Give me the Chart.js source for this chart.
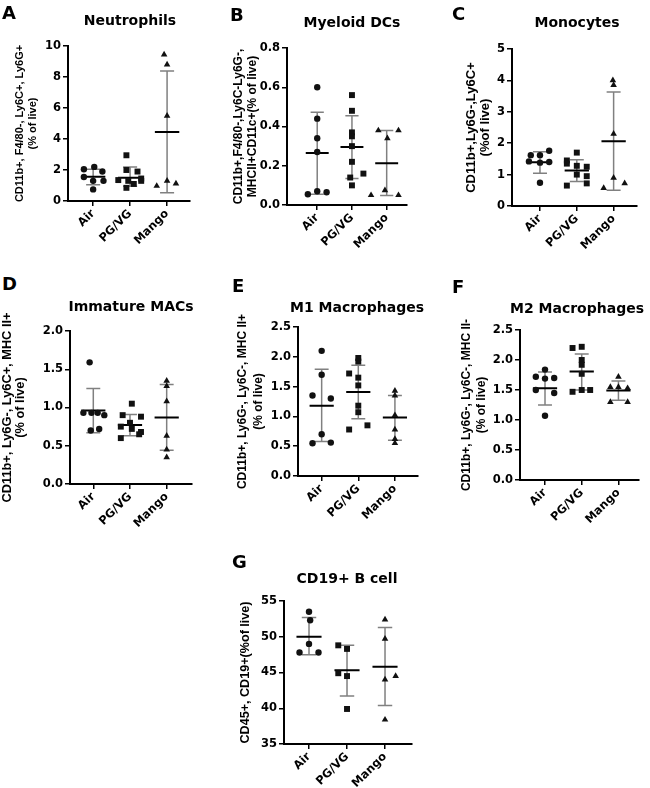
<!DOCTYPE html>
<html>
<head>
<meta charset="utf-8">
<script src="https://cdn.jsdelivr.net/npm/chart.js@4.4.1/dist/chart.umd.min.js"></script>
<style>
    body { margin: 0; background: #fff; width: 650px; height: 788px; position: relative; overflow: hidden; }
    .panel { position: absolute; }
    .letter { position: absolute; font: bold 18px "DejaVu Sans", sans-serif; color: #000; line-height: 1; }
    .ptitle { position: absolute; font: bold 14px "DejaVu Sans", sans-serif; color: #000; transform: translate(-50%, -50%); white-space: nowrap; }
</style>
</head>
<body>
<script>
// Grupos comunes a todos los paneles
const groups = ['Air', 'PG/VG', 'Mango'];

// A - Neutrophils
const neutrophilsValues = [
    [2.2, 2.05, 1.9, 1.55, 1.3, 1.3, 0.75],
    [2.95, 2.0, 1.9, 1.45, 1.35, 1.3, 1.3, 1.1, 0.85],
    [9.45, 8.8, 5.5, 1.3, 1.12, 0.97]
];
const neutrophilsJitter = [
    [0.03, -0.25, 0.25, -0.25, 0, 0.28, 0],
    [-0.1, -0.1, 0.2, 0.3, -0.32, -0.05, 0.3, 0.1, -0.1],
    [-0.08, 0, 0, 0, 0.24, -0.28]
];
const neutrophilsMean = [1.57, 1.5, 4.45];
const neutrophilsLow = [1.05, 0.95, 0.54];
const neutrophilsHigh = [2.05, 2.2, 8.39];
const neutrophilsTicks = [0, 2, 4, 6, 8, 10];

// B - Myeloid DCs
const myeloidValues = [
    [0.6, 0.44, 0.34, 0.27, 0.07, 0.055, 0.065],
    [0.56, 0.48, 0.37, 0.35, 0.3, 0.22, 0.16, 0.14, 0.1],
    [0.38, 0.38, 0.34, 0.075, 0.05, 0.05]
];
const myeloidJitter = [
    [0, 0, 0, 0, 0, -0.27, 0.27],
    [0, 0, 0, 0, 0, 0, 0.33, -0.05, 0],
    [-0.24, 0.34, 0.02, -0.05, -0.45, 0.34]
];
const myeloidMean = [0.265, 0.295, 0.213];
const myeloidLow = [0.055, 0.135, 0.048];
const myeloidHigh = [0.473, 0.455, 0.38];
const myeloidTicks = [0, 0.2, 0.4, 0.6, 0.8];

// C - Monocytes
const monocytesValues = [
    [1.76, 1.62, 1.62, 1.42, 1.38, 1.4, 0.74],
    [1.7, 1.45, 1.35, 1.28, 1.25, 1.0, 0.95, 0.72, 0.65],
    [4.0, 3.85, 2.3, 0.9, 0.72, 0.57]
];
const monocytesJitter = [
    [0.25, -0.25, 0, -0.3, 0, 0.25, 0],
    [0, -0.27, -0.27, 0, 0.27, 0, 0.27, 0.27, -0.27],
    [-0.02, 0, 0, 0, 0.3, -0.27]
];
const monocytesMean = [1.39, 1.13, 2.06];
const monocytesLow = [1.04, 0.78, 0.5];
const monocytesHigh = [1.73, 1.47, 3.63];
const monocytesTicks = [0, 1, 2, 3, 4, 5];

// D - Immature MACs
const immatureValues = [
    [1.59, 0.93, 0.93, 0.93, 0.9, 0.7, 0.72],
    [1.05, 0.9, 0.88, 0.8, 0.75, 0.72, 0.68, 0.65, 0.6],
    [1.35, 1.28, 1.08, 0.63, 0.45, 0.35]
];
const immatureJitter = [
    [-0.1, -0.27, -0.05, 0.12, 0.3, -0.07, 0.16],
    [0.05, -0.2, 0.3, 0, -0.25, 0.05, 0.3, 0.25, -0.25],
    [0, 0, 0, 0, 0, 0]
];
const immatureMean = [0.96, 0.77, 0.87];
const immatureLow = [0.67, 0.63, 0.44];
const immatureHigh = [1.25, 0.91, 1.3];
const immatureTicks = [0, 0.5, 1.0, 1.5, 2.0];

// E - M1 Macrophages
const m1Values = [
    [2.1, 1.7, 1.35, 1.3, 0.7, 0.55, 0.56],
    [1.98, 1.92, 1.72, 1.65, 1.52, 1.18, 1.07, 0.85, 0.78],
    [1.43, 1.35, 1.02, 0.78, 0.62, 0.55]
];
const m1Jitter = [
    [0, 0, -0.25, 0.25, 0, -0.25, 0.25],
    [0, 0, -0.25, 0, 0, 0, 0, 0.25, -0.25],
    [0, 0, 0, 0, 0, 0]
];
const m1Mean = [1.18, 1.41, 0.98];
const m1Low = [0.58, 0.96, 0.6];
const m1High = [1.79, 1.86, 1.35];
const m1Ticks = [0, 0.5, 1.0, 1.5, 2.0, 2.5];

// F - M2 Macrophages
const m2Values = [
    [1.84, 1.72, 1.69, 1.7, 1.5, 1.45, 1.07],
    [2.2, 2.22, 2.0, 1.92, 1.77, 1.47, 1.5, 1.5],
    [1.72, 1.55, 1.55, 1.53, 1.3, 1.3]
];
const m2Jitter = [
    [0, -0.25, 0, 0.25, -0.25, 0.25, 0],
    [-0.25, 0, 0, 0, 0, -0.25, 0, 0.23],
    [0, -0.22, 0, 0.25, -0.22, 0.25]
];
const m2Mean = [1.53, 1.81, 1.49];
const m2Low = [1.25, 1.5, 1.33];
const m2High = [1.8, 2.1, 1.65];
const m2Ticks = [0, 0.5, 1.0, 1.5, 2.0, 2.5];

// G - CD19+ B cell
const bcellValues = [
    [53.5, 52.3, 49.0, 47.8, 47.8],
    [48.8, 48.3, 44.9, 44.5, 39.9],
    [52.4, 49.7, 44.5, 44.0, 38.4]
];
const bcellJitter = [
    [0, 0.03, 0, -0.25, 0.25],
    [-0.23, 0, -0.23, 0, 0],
    [0, 0, 0.28, 0, 0]
];
const bcellMean = [50.0, 45.3, 45.8];
const bcellLow = [47.5, 41.7, 40.4];
const bcellHigh = [52.7, 48.8, 51.3];
const bcellTicks = [35, 40, 45, 50, 55];

// Paneles: datos + geometría (area = [left, top, right, bottom] del área de trazado)
const panels = [
    { letter: 'A', title: 'Neutrophils', yTitle: ['CD11b+, F4/80-, Ly6C+, Ly6G+', '(% of live)'],
      vals: neutrophilsValues, jitter: neutrophilsJitter, mean: neutrophilsMean, low: neutrophilsLow, high: neutrophilsHigh, ticks: neutrophilsTicks, dec: 0,
      area: [68, 46, 190, 201], canvasLeft: 0, xRange: [0.32, 3.62], yTitleAt: 20, lh: 13, ySize: 11, letterAt: [2, 4], titleAt: [130, 20] },
    { letter: 'B', title: 'Myeloid DCs', yTitle: ['CD11b+,F4/80-,Ly6C-Ly6G-,', 'MHCII+CD11c+(% of live)'],
      vals: myeloidValues, jitter: myeloidJitter, mean: myeloidMean, low: myeloidLow, high: myeloidHigh, ticks: myeloidTicks, dec: 1,
      area: [287, 48, 407, 205], canvasLeft: 222, xRange: [0.13, 3.585], yTitleAt: 239, lh: 14, ySize: 12, letterAt: [230, 6], titleAt: [352, 22] },
    { letter: 'C', title: 'Monocytes', yTitle: ['CD11b+,Ly6G-,Ly6C+', '(%of live)'],
      vals: monocytesValues, jitter: monocytesJitter, mean: monocytesMean, low: monocytesLow, high: monocytesHigh, ticks: monocytesTicks, dec: 0,
      area: [512, 49, 637, 206], canvasLeft: 445, xRange: [0.24, 3.635], yTitleAt: 471, lh: 14, ySize: 13, letterAt: [452, 5], titleAt: [577, 22] },
    { letter: 'D', title: 'Immature MACs', yTitle: ['CD11b+, Ly6G-, Ly6C+, MHC II+', '(% of live)'],
      vals: immatureValues, jitter: immatureJitter, mean: immatureMean, low: immatureLow, high: immatureHigh, ticks: immatureTicks, dec: 1,
      area: [70, 331, 192, 484], canvasLeft: 0, xRange: [0.365, 3.69], yTitleAt: 7.5, lh: 13, ySize: 12.8, letterAt: [2, 275], titleAt: [131, 306] },
    { letter: 'E', title: 'M1 Macrophages', yTitle: ['CD11b+, Ly6G-, Ly6C-, MHC II+', '(% of live)'],
      vals: m1Values, jitter: m1Jitter, mean: m1Mean, low: m1Low, high: m1High, ticks: m1Ticks, dec: 1,
      area: [298, 327, 418, 476], canvasLeft: 228, xRange: [0.354, 3.63], yTitleAt: 243, lh: 16, ySize: 12, letterAt: [232, 277], titleAt: [357, 307] },
    { letter: 'F', title: 'M2 Macrophages', yTitle: ['CD11b+, Ly6G-, Ly6C-, MHC II-', '(% of live)'],
      vals: m2Values, jitter: m2Jitter, mean: m2Mean, low: m2Low, high: m2High, ticks: m2Ticks, dec: 1,
      area: [520, 330, 639, 480], canvasLeft: 453, xRange: [0.319, 3.56], yTitleAt: 467, lh: 15, ySize: 12, letterAt: [452, 278], titleAt: [577, 308] },
    { letter: 'G', title: 'CD19+ B cell', yTitle: ['CD45+, CD19+(%of live)'],
      vals: bcellValues, jitter: bcellJitter, mean: bcellMean, low: bcellLow, high: bcellHigh, ticks: bcellTicks, dec: 0,
      area: [284, 601, 412, 744], canvasLeft: 232, xRange: [0.342, 3.71], yTitleAt: 246, lh: 14, ySize: 12.6, letterAt: [232, 553], titleAt: [347, 578] }
];

const pointStyles = ['circle', 'rect', 'triangle'];
const pointSizes = [3.2, 4.2, 3.8];
const tickFont = { family: 'DejaVu Sans', weight: 'bold', size: 11.5 };

function addText(cls, text, x, y) {
    const d = document.createElement('div');
    d.className = cls;
    d.textContent = text;
    d.style.left = x + 'px';
    d.style.top = y + 'px';
    document.body.appendChild(d);
}

// Segmentos de media y barras de error (separados por null)
function meanSegments(p) {
    const out = [];
    p.mean.forEach((m, g) => {
        out.push({ x: g + 1 - 0.33, y: m }, { x: g + 1 + 0.33, y: m }, { x: g + 1, y: null });
    });
    return out;
}
function errorSegments(p) {
    const out = [];
    p.mean.forEach((m, g) => {
        const c = g + 1, lo = p.low[g], hi = p.high[g];
        out.push({ x: c, y: lo }, { x: c, y: hi }, { x: c, y: null });
        out.push({ x: c - 0.19, y: hi }, { x: c + 0.19, y: hi }, { x: c, y: null });
        out.push({ x: c - 0.19, y: lo }, { x: c + 0.19, y: lo }, { x: c, y: null });
    });
    return out;
}

panels.forEach((p, idx) => {
    const [aL, aT, aR, aB] = p.area;
    const top = aT - 30;
    const right = Math.min(aR + 8, 650);
    const bottom = Math.min(aB + 62, 788);
    const W = right - p.canvasLeft, H = bottom - top;

    const wrap = document.createElement('div');
    wrap.className = 'panel';
    wrap.style.left = p.canvasLeft + 'px';
    wrap.style.top = top + 'px';
    const cv = document.createElement('canvas');
    cv.id = 'chart' + idx;
    cv.width = W; cv.height = H;
    cv.style.width = W + 'px'; cv.style.height = H + 'px';
    wrap.appendChild(cv);
    document.body.appendChild(wrap);

    addText('letter', p.letter, p.letterAt[0], p.letterAt[1]);
    addText('ptitle', p.title, p.titleAt[0], p.titleAt[1]);

    const datasets = p.vals.map((vals, g) => ({
        type: 'scatter',
        data: vals.map((v, i) => ({ x: g + 1 + p.jitter[g][i], y: v })),
        pointStyle: pointStyles[g],
        pointRadius: pointSizes[g],
        backgroundColor: '#111',
        borderColor: '#111',
        borderWidth: 0,
        clip: false
    }));
    datasets.push({
        type: 'scatter', showLine: true, spanGaps: false,
        data: meanSegments(p),
        borderColor: '#000', borderWidth: 2, pointRadius: 0, clip: false
    });
    datasets.push({
        type: 'scatter', showLine: true, spanGaps: false,
        data: errorSegments(p),
        borderColor: '#808080', borderWidth: 1.5, pointRadius: 0, clip: false
    });

    new Chart(cv, {
        type: 'scatter',
        data: { datasets: datasets },
        options: {
            responsive: false,
            animation: false,
            devicePixelRatio: 1,
            events: [],
            layout: { padding: { top: aT - top, right: right - aR, left: 0, bottom: 0 } },
            plugins: { legend: { display: false }, tooltip: { enabled: false } },
            scales: {
                x: {
                    type: 'linear',
                    min: p.xRange[0],
                    max: p.xRange[1],
                    afterBuildTicks: s => { s.ticks = groups.map((g, i) => ({ value: i + 1 })); },
                    afterFit: s => { s.height = bottom - aB; },
                    ticks: {
                        autoSkip: false, minRotation: 45, maxRotation: 45, padding: 1,
                        color: '#000', font: tickFont,
                        callback: v => groups[Math.round(v) - 1]
                    },
                    grid: { drawOnChartArea: false, tickLength: 5, color: '#000', lineWidth: 1.5 },
                    border: { color: '#000', width: 2 }
                },
                y: {
                    min: p.ticks[0],
                    max: p.ticks[p.ticks.length - 1],
                    afterBuildTicks: s => { s.ticks = p.ticks.map(v => ({ value: v })); },
                    afterFit: s => { s.width = aL - p.canvasLeft; },
                    ticks: {
                        padding: 2, color: '#000', font: tickFont,
                        callback: v => Number(v).toFixed(p.dec)
                    },
                    grid: { drawOnChartArea: false, tickLength: 5, color: '#000', lineWidth: 1.5 },
                    border: { color: '#000', width: 2 },
                    title: {
                        display: true,
                        text: p.yTitle,
                        color: '#000',
                        font: { family: 'Liberation Sans', weight: 'bold', size: p.ySize, lineHeight: p.lh + 'px' },
                        padding: { top: Math.max(p.yTitleAt - p.canvasLeft - p.lh / 2, 0), bottom: 0 }
                    }
                }
            }
        }
    });
});
</script>
</body>
</html>
